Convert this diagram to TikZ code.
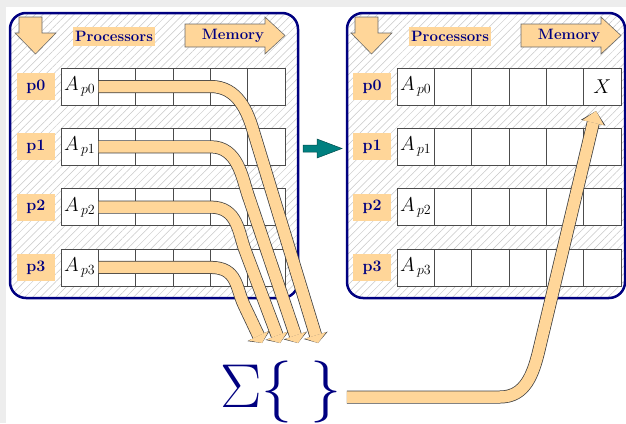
\RequirePackage{fix-cm}
\documentclass[tikz,border=0pt]{standalone}
\usepackage{tikz}
\usetikzlibrary{calc, arrows.meta, patterns.meta}

\definecolor{navy}{RGB}{0,0,128}
\definecolor{sand}{RGB}{255,214,153}
\definecolor{tealarrow}{RGB}{0,128,128}
\definecolor{edgegray}{RGB}{105,105,105}

\tikzset{
    cell/.style={draw=black!70, fill=white, line width=0.7pt, minimum width=37.33pt, minimum height=37pt, inner sep=0pt, font=\fontsize{20}{20}\selectfont},
    plabel/.style={fill=sand, text=navy, font=\fontsize{16}{16}\selectfont\bfseries, minimum width=38pt, minimum height=27pt, inner sep=0pt},
    title/.style={text=navy, font=\fontsize{15}{15}\selectfont\bfseries, inner sep=0pt},
    panel/.style={draw=navy, line width=2.5pt, rounded corners=16pt, pattern={Lines[angle=45, distance=5.5pt, line width=0.5pt]}, pattern color=black!22},
    block/.style={fill=sand, draw=edgegray, line width=0.6pt},
    band/.style={draw=sand, line width=11.5pt, -{Triangle[length=#1, width=22pt, line width=0pt]},
        preaction={draw=black!75, line width=13pt, -{Triangle[length=#1, width=25pt, line width=0pt]}}},
    band/.default=8pt
}

\begin{document}
\begin{tikzpicture}[x=1pt, y=-1pt]
    \useasboundingbox (0,0) rectangle (626,423);
    \fill[black!7] (0,0) rectangle (626,7);
    \fill[black!7] (0,0) rectangle (6,423);

    % the two panels
    \draw[panel] (10,13) rectangle (298,298);
    \draw[panel] (347,13) rectangle (625,298);

    \foreach \side/\dx in {L/0, R/336} {
        \begin{scope}[xshift=\dx pt]
            \draw[block] (19,17) -- (42,17) -- (42,33) -- (56,33) -- (35.5,54) -- (15,33) -- (19,33) -- cycle;
            \node[title, fill=sand, minimum width=82pt, minimum height=19pt] (\side-proc) at (114,36.5) {Processors};
            \draw[block] (185,24) -- (265,24) -- (265,17) -- (285,35.5) -- (265,54) -- (265,47) -- (185,47) -- cycle;
            \node[title] (\side-mem) at (233,35.5) {Memory};
            \foreach \r in {0,...,3} {
                \node[plabel] (\side-p\r) at (36, 86.5+60.3*\r) {p\r};
                \foreach \c in {0,...,5}
                    \node[cell] (\side-\r-\c) at (79.67+37.33*\c, 86.5+60.3*\r) {\ifnum\c=0 $A_{\,p\r}$\fi};
            }
        \end{scope}
    }
    \node[font=\fontsize{20}{20}\selectfont] at (R-0-5) {$X$};

    % teal arrow between the panels
    \draw[fill=tealarrow, draw=tealarrow!60!black, line width=0.5pt] (303,145) -- (317,145) -- (317,139) -- (342,148.5) -- (317,158) -- (317,152) -- (303,152) -- cycle;

    \node[text=navy, font=\fontsize{62}{62}\selectfont, inner sep=0pt] (sum) at (281,392) {$\Sigma\{\hspace{18pt}\}$};

    % bands into the sum
    \foreach \r/\bx/\by/\tx in {3/244/305/262, 2/245/250/280, 1/248/195/298, 0/253/130/318} {
        \coordinate (bend\r) at (\bx,\by);
        \coordinate (tip\r) at (\tx,343);
        \draw[band] (L-\r-0.east) -- (L-\r-3.east) .. controls +(27,0) and ($(bend\r)!-19pt!(tip\r)$) .. (bend\r) -- (tip\r);
    }

    % band from the sum to X
    \coordinate (xtip) at (596,111);
    \draw[band=12pt] ([shift={(5,5)}]sum.east) -- (500,397) .. controls (525,397) and (533,375) .. (539,350) -- (xtip);
\end{tikzpicture}
\end{document}
